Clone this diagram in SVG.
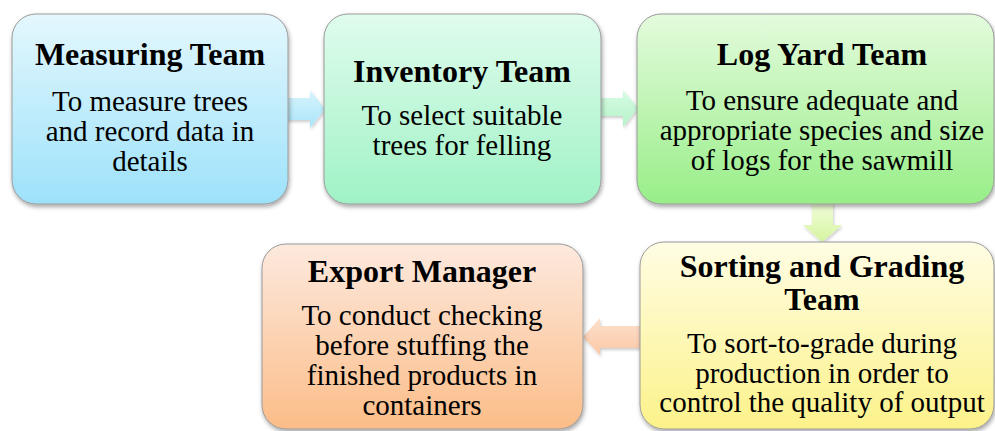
<svg xmlns="http://www.w3.org/2000/svg" width="995" height="431" viewBox="0 0 995 431">
<defs>
<linearGradient id="g1" x1="0" y1="0" x2="0" y2="1"><stop offset="0" stop-color="#e4f7fd"/><stop offset="1" stop-color="#9de2fa"/></linearGradient>
<linearGradient id="g2" x1="0" y1="0" x2="0" y2="1"><stop offset="0" stop-color="#e0fced"/><stop offset="1" stop-color="#a0f2c6"/></linearGradient>
<linearGradient id="g3" x1="0" y1="0" x2="0" y2="1"><stop offset="0" stop-color="#e4fbdd"/><stop offset="1" stop-color="#98ee88"/></linearGradient>
<linearGradient id="g4" x1="0" y1="0" x2="0" y2="1"><stop offset="0" stop-color="#fffde4"/><stop offset="1" stop-color="#fcf28a"/></linearGradient>
<linearGradient id="g5" x1="0" y1="0" x2="0" y2="1"><stop offset="0" stop-color="#fde9de"/><stop offset="1" stop-color="#fbbd88"/></linearGradient>
<linearGradient id="a1" x1="0" y1="0" x2="0" y2="1"><stop offset="0" stop-color="#d8f4fd"/><stop offset="1" stop-color="#a9e5f9"/></linearGradient>
<linearGradient id="a2" x1="0" y1="0" x2="0" y2="1"><stop offset="0" stop-color="#d8fbe4"/><stop offset="1" stop-color="#b4f4c8"/></linearGradient>
<linearGradient id="a3" x1="0" y1="0" x2="0" y2="1"><stop offset="0" stop-color="#f4fde0"/><stop offset="1" stop-color="#d6f5a0"/></linearGradient>
<linearGradient id="a4" x1="0" y1="0" x2="0" y2="1"><stop offset="0" stop-color="#fde0cc"/><stop offset="1" stop-color="#fbc8a6"/></linearGradient>
<filter id="sh" x="-10%" y="-10%" width="120%" height="125%"><feDropShadow dx="1" dy="2.5" stdDeviation="2" flood-color="#000" flood-opacity="0.35"/></filter>
<filter id="ash" x="-20%" y="-20%" width="140%" height="150%"><feDropShadow dx="1" dy="2" stdDeviation="1.5" flood-color="#000" flood-opacity="0.2"/></filter>
</defs>
<style>
.box{stroke:#9a9a9a;stroke-width:1;filter:url(#sh)}
.t{font-family:"Liberation Serif","Times New Roman",serif;font-weight:bold;font-size:32px;fill:#000;text-anchor:middle}
.b{font-family:"Liberation Serif","Times New Roman",serif;font-size:29px;fill:#000;text-anchor:middle}
.arr{filter:url(#ash)}
</style>
<rect width="995" height="431" fill="#ffffff"/>
<g id="connectors">
<polygon class="arr" fill="url(#a1)" points="283,98 310,98 310,90 325,109 310,128 310,120 283,120"/>
<polygon class="arr" fill="url(#a2)" points="595,98 623,98 623,90 638,108 623,127 623,116 595,116"/>
<polygon class="arr" fill="url(#a3)" points="812,198 833,198 833,225 842,225 822,242 803,225 812,225"/>
<polygon class="arr" fill="url(#a4)" points="660,326 600,326 600,318 583,337 600,355 600,348 660,348"/>
</g>
<g id="node-measuring">
<rect class="box" x="12" y="14" width="276" height="190" rx="24" fill="url(#g1)"/>
<text class="t" x="150" y="65">Measuring Team</text>
<text class="b" x="150" y="111">To measure trees</text>
<text class="b" x="150" y="141">and record data in</text>
<text class="b" x="150" y="171">details</text>
</g>
<g id="node-inventory">
<rect class="box" x="324" y="14" width="277" height="190" rx="24" fill="url(#g2)"/>
<text class="t" x="462" y="82">Inventory Team</text>
<text class="b" x="462" y="125">To select suitable</text>
<text class="b" x="462" y="155">trees for felling</text>
</g>
<g id="node-logyard">
<rect class="box" x="637" y="14" width="357" height="190" rx="24" fill="url(#g3)"/>
<text class="t" x="822" y="65">Log Yard Team</text>
<text class="b" x="822" y="110">To ensure adequate and</text>
<text class="b" x="822" y="140">appropriate species and size</text>
<text class="b" x="822" y="170">of logs for the sawmill</text>
</g>
<g id="node-sorting">
<rect class="box" x="640" y="242" width="354" height="187" rx="24" fill="url(#g4)"/>
<text class="t" x="822" y="277">Sorting and Grading</text>
<text class="t" x="822" y="310">Team</text>
<text class="b" x="822" y="353">To sort-to-grade during</text>
<text class="b" x="822" y="383">production in order to</text>
<text class="b" x="822" y="412">control the quality of output</text>
</g>
<g id="node-export">
<rect class="box" x="262" y="244" width="321" height="185" rx="24" fill="url(#g5)"/>
<text class="t" x="422" y="282">Export Manager</text>
<text class="b" x="422" y="325">To conduct checking</text>
<text class="b" x="422" y="355">before stuffing the</text>
<text class="b" x="422" y="385">finished products in</text>
<text class="b" x="422" y="415">containers</text>
</g>
</svg>
